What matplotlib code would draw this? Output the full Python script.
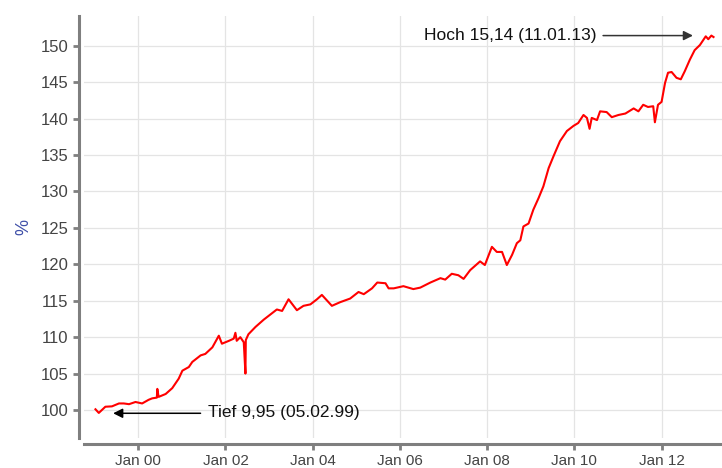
import pandas as pd
import matplotlib.pyplot as plt
import matplotlib.dates as mdates

plt.rcParams['font.family'] = ['Liberation Sans', 'DejaVu Sans']

# Werte (Datum, Prozent)
dates = [
    "1999-01-08", "1999-02-05", "1999-04-01", "1999-05-26", "1999-07-24", "1999-09-02",
    "1999-10-16", "1999-12-09", "2000-02-03", "2000-03-28", "2000-04-27", "2000-06-05",
    "2000-06-09", "2000-06-20", "2000-08-18", "2000-10-12", "2000-12-05", "2001-01-05",
    "2001-02-28", "2001-03-29", "2001-06-07", "2001-07-16", "2001-09-13", "2001-11-06",
    "2001-12-02", "2002-01-30", "2002-03-11", "2002-03-25", "2002-04-05", "2002-05-05",
    "2002-06-03", "2002-06-17", "2002-06-20", "2002-07-12", "2002-09-09", "2002-11-17",
    "2003-03-07", "2003-04-20", "2003-06-13", "2003-08-22", "2003-10-16", "2003-12-13",
    "2004-02-06", "2004-03-18", "2004-06-10", "2004-08-18", "2004-11-10", "2005-01-19",
    "2005-03-04", "2005-05-12", "2005-06-25", "2005-09-02", "2005-09-28", "2005-11-10",
    "2006-01-30", "2006-04-23", "2006-06-20", "2006-09-13", "2006-12-06", "2007-01-15",
    "2007-03-11", "2007-05-05", "2007-06-18", "2007-08-12", "2007-11-03", "2007-12-13",
    "2008-02-10", "2008-03-22", "2008-05-05", "2008-06-14", "2008-07-28", "2008-09-06",
    "2008-10-05", "2008-10-31", "2008-12-13", "2009-01-22", "2009-03-07", "2009-04-16",
    "2009-05-30", "2009-07-09", "2009-09-02", "2009-10-30", "2009-12-24", "2010-02-02",
    "2010-03-18", "2010-04-16", "2010-05-08", "2010-05-26", "2010-07-09", "2010-08-04",
    "2010-09-28", "2010-11-10", "2011-01-05", "2011-03-04", "2011-05-12", "2011-06-21",
    "2011-07-31", "2011-09-09", "2011-10-23", "2011-11-06", "2011-12-02", "2012-01-01",
    "2012-01-30", "2012-02-24", "2012-03-25", "2012-05-05", "2012-06-10", "2012-07-13",
    "2012-08-25", "2012-10-04", "2012-11-17", "2013-01-05", "2013-01-26", "2013-02-21",
    "2013-03-11",
]
values = [
    100.1, 99.6, 100.45, 100.5, 100.9, 100.9,
    100.8, 101.1, 100.9, 101.4, 101.6, 101.7,
    102.9, 101.8, 102.2, 103.0, 104.3, 105.4,
    105.9, 106.6, 107.5, 107.7, 108.6, 110.2,
    109.1, 109.5, 109.8, 110.6, 109.5, 110.0,
    109.3, 105.0, 109.6, 110.4, 111.4, 112.4,
    113.8, 113.6, 115.2, 113.7, 114.3, 114.5,
    115.2, 115.8, 114.3, 114.8, 115.3, 116.2,
    115.9, 116.7, 117.5, 117.4, 116.7, 116.7,
    117.0, 116.6, 116.8, 117.5, 118.1, 117.9,
    118.7, 118.5, 118.0, 119.2, 120.4, 119.9,
    122.4, 121.7, 121.7, 119.9, 121.3, 122.9,
    123.3, 125.2, 125.6, 127.5, 129.1, 130.7,
    133.2, 134.8, 136.9, 138.3, 139.0, 139.4,
    140.5, 140.1, 138.6, 140.1, 139.8, 141.0,
    140.9, 140.2, 140.5, 140.7, 141.4, 141.0,
    141.9, 141.6, 141.7, 139.5, 141.9, 142.3,
    144.9, 146.3, 146.4, 145.6, 145.4, 146.5,
    148.1, 149.4, 150.1, 151.3, 150.9, 151.4,
    151.2,
]
tick_dates = ["2000-01-01", "2002-01-01", "2004-01-01", "2006-01-01",
              "2008-01-01", "2010-01-01", "2012-01-01"]
y_ticks = [100, 105, 110, 115, 120, 125, 130, 135, 140, 145, 150]
low_label = "Tief 9,95 (05.02.99)"
high_label = "Hoch 15,14 (11.01.13)"

x = pd.to_datetime(dates)

fig = plt.figure(figsize=(7.22, 4.68), dpi=100)
ax = fig.add_axes([0.117, 0.064, 0.883, 0.902])

ax.plot(x, values, color='#ff0000', lw=1.5, zorder=3)

ax.set_xlim(pd.Timestamp("1998-10-08"), pd.Timestamp("2013-05-21"))
ax.set_ylim(96.15, 154.1)
ax.set_xticks(pd.to_datetime(tick_dates))
ax.xaxis.set_major_formatter(mdates.DateFormatter('%b %y'))
ax.set_yticks(y_ticks)

ax.grid(True, color='#e4e4e4', lw=0.9)
ax.set_axisbelow(True)

for s in ['top', 'right']:
    ax.spines[s].set_visible(False)
ax.spines['left'].set_position(('outward', 4))
ax.spines['bottom'].set_position(('outward', 4))
for s in ['left', 'bottom']:
    ax.spines[s].set_color('#7f7f7f')
    ax.spines[s].set_linewidth(2.2)
ax.tick_params(axis='both', colors='#7f7f7f', width=2, length=4,
               labelcolor='#444444', labelsize=11)
ax.tick_params(axis='y', labelsize=12)

ax.set_ylabel('%', color='#3f4fa8', fontsize=13, labelpad=6)

arrow = dict(arrowstyle='-|>', color='black', lw=1.1, mutation_scale=14,
             shrinkA=0, shrinkB=0)
ax.annotate('', xy=(pd.Timestamp("1999-06-05"), 99.55),
            xytext=(pd.Timestamp("2001-06-06"), 99.55), arrowprops=arrow)
ax.text(pd.Timestamp("2001-08-11"), 99.6, low_label, ha='left', va='center',
        fontsize=12.5, color='#111111')
ax.annotate('', xy=(pd.Timestamp("2012-09-20"), 151.4),
            xytext=(pd.Timestamp("2010-08-29"), 151.4),
            arrowprops=dict(arrow, color='#333333'))
ax.text(pd.Timestamp("2010-07-01"), 151.4, high_label, ha='right', va='center',
        fontsize=12.5, color='#111111')

fig.savefig('out.png', dpi=100)
